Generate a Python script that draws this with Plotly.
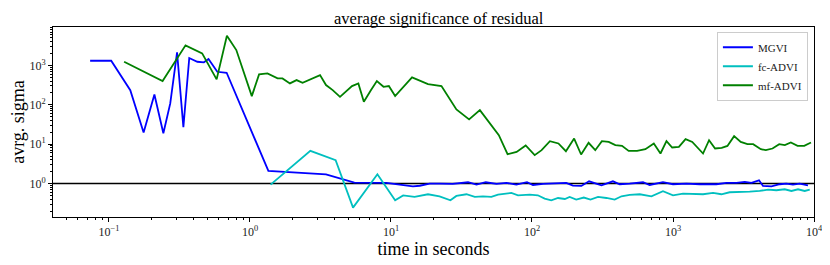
import plotly.graph_objects as go

# ---- data ----
mgvi_t = [0.0735, 0.1037, 0.1416, 0.176, 0.210, 0.243, 0.272, 0.304, 0.337, 0.371,
          0.423, 0.471, 0.508, 0.586, 0.683, 1.35, 3.46, 5.5,
          9.27, 11.5, 14.3, 16.0, 18.8, 22.2, 27.4, 35.2, 40.4, 47.0,
          56.0, 65.8, 77.5, 92.2, 101.6, 119.7, 149, 175, 195, 224,
          254, 286, 311, 375, 419, 493, 613, 683, 849, 1000,
          1245, 1546, 2030, 2392, 2818, 3228, 3600, 4076, 4348, 4989,
          5715, 6368, 7096, 7907, 9064]
mgvi_v = [1309, 1309, 235, 19.8, 183, 19, 108, 2143, 27, 1535,
          1236, 1193, 1447, 688, 649, 2.09, 1.72, 1.06,
          1.04, 0.96, 0.85, 0.88, 1.0, 1.0, 0.98, 1.08, 0.94, 1.08,
          0.98, 1.04, 0.94, 1.08, 0.92, 0.98, 1.0, 1.04, 0.89, 0.87,
          1.14, 1.0, 0.905, 1.14, 0.96, 1.0, 1.08, 0.92, 1.08, 0.96,
          1.0, 0.96, 0.96, 1.04, 1.04, 1.10, 1.04, 1.21, 0.87, 0.85,
          0.96, 1.0, 0.94, 1.0, 0.905]

fc_t = [1.40, 2.68, 4.05, 5.38, 8.01, 10.7, 12.2, 14.7, 18.3, 22.1,
        26.4, 29.1, 34.3, 39.3, 44.9, 51.5, 57.4, 71.4, 79.6, 96.4,
        110, 123, 137, 153, 171, 185, 206, 233, 260, 294,
        337, 386, 431, 493, 581, 703, 849, 1000, 1178, 1387,
        1633, 1923, 2204, 2524, 2972, 3499, 4120, 4720, 5408, 6194,
        6915, 7703, 8590, 9330]
fc_v = [0.94, 6.75, 3.91, 0.245, 1.72, 0.376, 0.50, 0.457, 0.535, 0.475,
        0.376, 0.484, 0.535, 0.457, 0.475, 0.457, 0.525, 0.577, 0.504, 0.525,
        0.504, 0.416, 0.376, 0.43, 0.406, 0.457, 0.392, 0.441, 0.392, 0.457,
        0.43, 0.392, 0.475, 0.513, 0.535, 0.475, 0.637, 0.504, 0.557, 0.557,
        0.535, 0.577, 0.535, 0.601, 0.626, 0.626, 0.649, 0.704, 0.676, 0.716,
        0.649, 0.716, 0.649, 0.704]

mf_t = [0.128, 0.240, 0.349, 0.458, 0.580, 0.686, 0.80, 1.03, 1.16,
        1.33, 1.57, 1.70, 1.92, 2.14, 2.36, 3.14, 3.46, 3.86, 4.35,
        4.80, 5.29, 5.87, 6.42, 7.22, 7.94, 8.85, 9.66, 10.7, 14.1,
        18.3, 22.8, 29.1, 35.8, 42.7, 58.2, 67.1, 77.8, 90.2, 104.5,
        117, 134, 154, 174, 199, 223, 252, 281, 313, 350,
        390, 435, 485, 556, 637, 731, 815, 899, 987, 1101,
        1228, 1370, 1633, 1802, 1988, 2215, 2432, 2713, 3023, 3373,
        3703, 4198, 4553, 5079, 5666, 6212, 6853, 7645, 8531, 9520]
mf_v = [1236, 399, 3228, 2020, 441, 5660, 2450, 166, 590,
        627, 467, 467, 349, 423, 361, 567, 317, 236, 159,
        213, 298, 349, 119, 236, 399, 286, 298, 166, 495,
        335, 298, 76, 42.4, 73, 16.9, 5.56, 6.37, 9.25, 5.25,
        7.03, 11.9, 10.4, 6.62, 13.9, 5.46, 10.8, 7.03, 11.9, 11.4,
        9.42, 9.04, 6.75, 6.75, 7.45, 10.4, 5.79, 11.9, 8.23, 8.5,
        13.4, 11.4, 5.79, 12.6, 7.76, 8.04, 9.04, 16, 11.4, 10,
        10, 7.45, 7.03, 7.76, 10, 9.42, 11, 9.04, 9.04, 11]

series_names = ["MGVI", "fc-ADVI", "mf-ADVI"]
reference_level = 1.0

x_tick_vals = [0.1, 1, 10, 100, 1000, 10000]
x_tick_text = ["10<sup>\u22121</sup>", "10<sup>0</sup>", "10<sup>1</sup>",
               "10<sup>2</sup>", "10<sup>3</sup>", "10<sup>4</sup>"]
y_tick_vals = [1, 10, 100, 1000]
y_tick_text = ["10<sup>0</sup>", "10<sup>1</sup>", "10<sup>2</sup>", "10<sup>3</sup>"]

x_minor = [m * 10.0 ** e for e in range(-2, 4) for m in range(2, 10)]
y_minor = [m * 10.0 ** e for e in range(-1, 4) for m in range(2, 10)]

FONT = "Liberation Serif, DejaVu Serif, serif"

fig = go.Figure()
for name, t, v, col in [
    (series_names[0], mgvi_t, mgvi_v, "#0000ff"),
    (series_names[1], fc_t, fc_v, "#00bfbf"),
    (series_names[2], mf_t, mf_v, "#008000"),
]:
    fig.add_trace(go.Scatter(x=t, y=v, mode="lines", name=name,
                             line=dict(color=col, width=1.8)))

fig.add_hline(y=reference_level, line=dict(color="black", width=1.6), layer="below")

axis_common = dict(
    type="log", showgrid=False, zeroline=False, automargin=False,
    showline=True, linecolor="black", linewidth=1, mirror=True,
    ticks="outside", ticklen=4, tickcolor="black", tickwidth=1,
    tickfont=dict(family=FONT, size=12, color="#222"),
)

# the page body adds an 8px offset, so the figure is sized to the visible window
fig.update_layout(
    width=822, height=257,
    margin=dict(l=45, r=16, t=19, b=48),
    plot_bgcolor="white", paper_bgcolor="white",
    title=dict(text="average significance of residual", x=0.524, xanchor="center",
               y=0.962, yanchor="middle",
               font=dict(family=FONT, size=16.5, color="black")),
    xaxis=dict(axis_common, range=[-1.397, 4.0], tickmode="array",
               tickvals=x_tick_vals, ticktext=x_tick_text,
               minor=dict(tickmode="array", tickvals=x_minor, ticks="outside", ticklen=2,
                          tickcolor="black", tickwidth=0.8, showgrid=False),
               title=dict(text="time in seconds", font=dict(family=FONT, size=18, color="black"),
                          standoff=0)),
    yaxis=dict(axis_common, range=[-0.849, 3.974], tickmode="array",
               tickvals=y_tick_vals, ticktext=y_tick_text,
               minor=dict(tickmode="array", tickvals=y_minor, ticks="outside", ticklen=2,
                          tickcolor="black", tickwidth=0.8, showgrid=False),
               title=dict(text="avrg. sigma", font=dict(family=FONT, size=18, color="black"),
                          standoff=2)),
    legend=dict(x=0.992, y=0.975, xanchor="right", yanchor="top",
                bgcolor="rgba(255,255,255,0.9)", bordercolor="#cccccc", borderwidth=1,
                font=dict(family=FONT, size=11, color="#222"),
                itemwidth=30, tracegroupgap=0),
    showlegend=True,
)

fig.write_html("out.html")
